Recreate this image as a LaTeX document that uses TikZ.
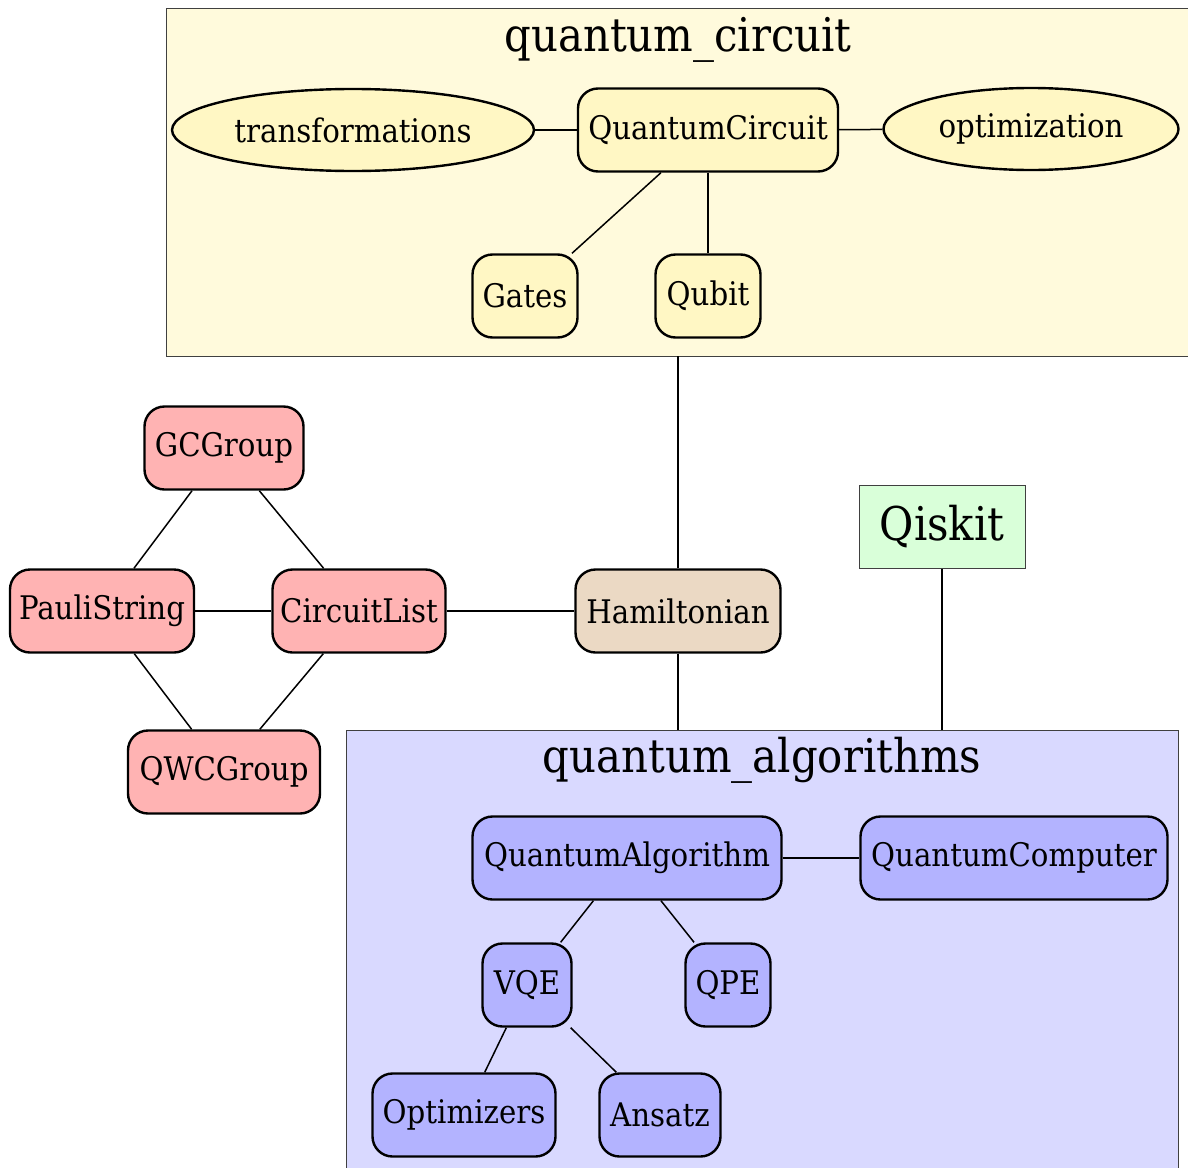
\documentclass[tikz,border=0pt]{standalone}
\usepackage{fontspec}
\setmainfont{DejaVu Serif Condensed}
\usepackage{tikz}
\usetikzlibrary{shapes.geometric}
\definecolor{ClusterYellow}{HTML}{FFFADC}
\definecolor{NodeYellow}{HTML}{FFF7C4}
\definecolor{NodeRed}{HTML}{FFB3B3}
\definecolor{NodeTan}{HTML}{EBD9C4}
\definecolor{NodeGreen}{HTML}{D9FFD9}
\definecolor{ClusterBlue}{HTML}{D9D9FF}
\definecolor{NodeBlue}{HTML}{B3B3FF}

\tikzset{
  cluster/.style={draw=black!75,line width=0.8pt,inner sep=0pt},
  title/.style={font=\fontsize{46.5}{52}\selectfont},
  box/.style={draw,line width=2.4pt,rounded corners=20pt,inner sep=2pt,
    minimum height=83pt,font=\fontsize{32.5}{38}\selectfont},
  oval/.style={draw,ellipse,line width=2.4pt,inner sep=0pt,
    minimum height=82pt,font=\fontsize{32.5}{38}\selectfont,fill=NodeYellow},
  link/.style={line width=1.5pt}
}

\begin{document}
\begin{tikzpicture}[x=1pt,y=-1pt]
  \useasboundingbox (0,0) rectangle (1188,1167);
  \clip (0,0) rectangle (1188,1167);

  % clusters
  \node[cluster,fill=ClusterYellow,minimum width=1024pt,minimum height=348pt] (qcbox) at (678,182) {};
  \node[title] (qctitle) at (678,40) {quantum\_circuit};
  \node[cluster,fill=ClusterBlue,minimum width=832pt,minimum height=450pt] (qabox) at (762,955) {};
  \node[title] (qatitle) at (762,760) {quantum\_algorithms};

  % quantum_circuit
  \node[box,fill=NodeYellow,minimum width=260pt] (qcirc) at (708,130) {QuantumCircuit};
  \node[oval,minimum width=362pt] (transf) at (353,130) {transformations};
  \node[oval,minimum width=295pt] (optim) at (1031,129) {optimization};
  \node[box,fill=NodeYellow,minimum width=105pt] (gates) at (525,296) {Gates};
  \node[box,fill=NodeYellow,minimum width=105pt] (qubit) at (708,296) {Qubit};

  % grouping
  \node[box,fill=NodeRed,minimum width=159pt] (gcgroup) at (224,448) {GCGroup};
  \node[box,fill=NodeRed,minimum width=184pt] (pauli) at (102,611) {PauliString};
  \node[box,fill=NodeRed,minimum width=173pt] (circlist) at (359,611) {CircuitList};
  \node[box,fill=NodeRed,minimum width=192pt] (qwcgroup) at (224,772) {QWCGroup};
  \node[box,fill=NodeTan,minimum width=205pt] (ham) at (678,611) {Hamiltonian};
  \node[draw=black!75,line width=0.8pt,fill=NodeGreen,minimum width=166pt,minimum height=83pt,
    title] (qiskit) at (942,527) {Qiskit};

  % quantum_algorithms
  \node[box,fill=NodeBlue,minimum width=309pt] (qalg) at (627,858) {QuantumAlgorithm};
  \node[box,fill=NodeBlue,minimum width=307pt] (qcomp) at (1014,858) {QuantumComputer};
  \node[box,fill=NodeBlue,minimum width=89pt] (vqe) at (527,985) {VQE};
  \node[box,fill=NodeBlue,minimum width=85pt] (qpe) at (728,985) {QPE};
  \node[box,fill=NodeBlue,minimum width=183pt] (optimizers) at (464,1115) {Optimizers};
  \node[box,fill=NodeBlue,minimum width=121pt] (ansatz) at (660,1115) {Ansatz};

  % edges
  \draw[link] (transf) -- (qcirc);
  \draw[link] (qcirc) -- (optim);
  \draw[link] (qcirc) -- (gates);
  \draw[link] (qcirc) -- (qubit);
  \draw[link] (gcgroup) -- (pauli);
  \draw[link] (gcgroup) -- (circlist);
  \draw[link] (pauli) -- (circlist);
  \draw[link] (pauli) -- (qwcgroup);
  \draw[link] (circlist) -- (qwcgroup);
  \draw[link] (circlist) -- (ham);
  \draw[link] (ham) -- (ham |- qcbox.south);
  \draw[link] (ham) -- (ham |- qabox.north);
  \draw[link] (qiskit) -- (qiskit |- qabox.north);
  \draw[link] (qalg) -- (qcomp);
  \draw[link] (qalg) -- (vqe);
  \draw[link] (qalg) -- (qpe);
  \draw[link] (vqe) -- (optimizers);
  \draw[link] (vqe) -- (ansatz);
\end{tikzpicture}
\end{document}
